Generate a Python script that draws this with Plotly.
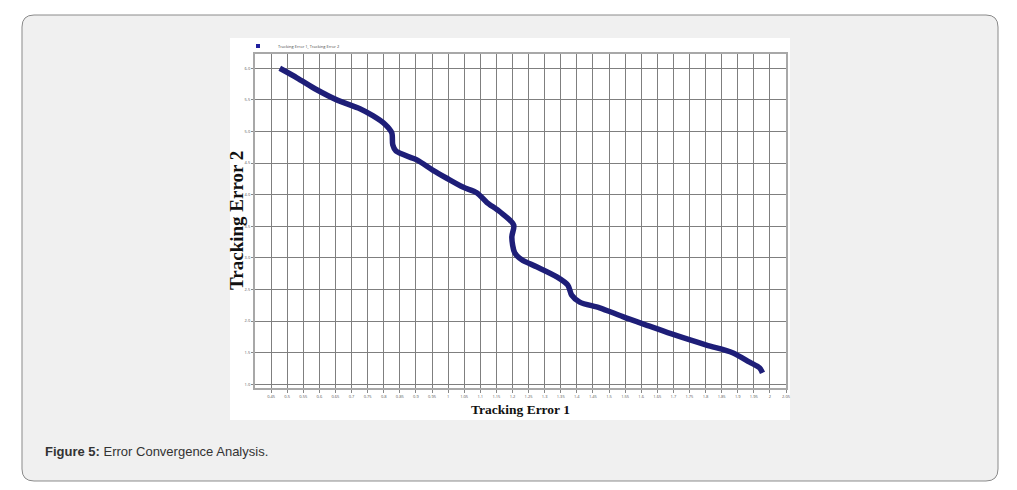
import plotly.graph_objects as go

# curve
tracking_error_1 = [0.477, 0.530, 0.592, 0.654, 0.726, 0.766, 0.803, 0.825, 0.828, 0.838,
                    0.903, 0.952, 0.996, 1.046, 1.089, 1.120, 1.161, 1.204, 1.198, 1.207,
                    1.229, 1.275, 1.338, 1.372, 1.384, 1.409, 1.471, 1.543, 1.626, 1.704,
                    1.803, 1.884, 1.937, 1.968, 1.977]
tracking_error_2 = [6.00, 5.85, 5.66, 5.50, 5.36, 5.25, 5.12, 4.98, 4.79, 4.69,
                    4.55, 4.39, 4.26, 4.12, 4.03, 3.88, 3.73, 3.52, 3.33, 3.08,
                    2.97, 2.86, 2.70, 2.57, 2.41, 2.30, 2.21, 2.07, 1.92, 1.78,
                    1.62, 1.50, 1.35, 1.26, 1.18]

x_ticks = [0.45, 0.5, 0.55, 0.6, 0.65, 0.7, 0.75, 0.8, 0.85, 0.9, 0.95, 1.0,
           1.05, 1.1, 1.15, 1.2, 1.25, 1.3, 1.35, 1.4, 1.45, 1.5, 1.55, 1.6,
           1.65, 1.7, 1.75, 1.8, 1.85, 1.9, 1.95, 2.0, 2.05]
x_labels = ["%g" % v for v in x_ticks]
y_ticks = [1.0, 1.5, 2.0, 2.5, 3.0, 3.5, 4.0, 4.5, 5.0, 5.5, 6.0]
y_labels = ["%.1f" % v for v in y_ticks]

OFF = 8   # page body margin, figure sits 8px in
W, H = 1001, 474
L, R, T, B = 255 - OFF, 786 - OFF, 54 - OFF, 388 - OFF   # plot area in figure pixels


def px(x):
    return (x - OFF - L) / (R - L)


def py(y):
    return (B - (y - OFF)) / (B - T)


def rounded_box(x0, y0, x1, y1, r):
    # rounded rectangle path in paper coords
    rx = r / (R - L)
    ry = r / (B - T)
    a, b, c, d = px(x0), px(x1), py(y1), py(y0)
    return ("M %f,%f L %f,%f Q %f,%f %f,%f L %f,%f Q %f,%f %f,%f "
            "L %f,%f Q %f,%f %f,%f L %f,%f Q %f,%f %f,%f Z" % (
                a + rx, c, b - rx, c, b, c, b, c + ry, b, d - ry, b, d, b - rx, d,
                a + rx, d, a, d, a, d - ry, a, c + ry, a, c, a + rx, c))


fig = go.Figure()
fig.add_trace(go.Scatter(
    x=tracking_error_1, y=tracking_error_2, mode="lines", showlegend=False,
    line=dict(color="#1e1e78", width=5.5, shape="spline", smoothing=0.8),
))
# legend entry with the square swatch of the original
fig.add_trace(go.Scatter(
    x=[None], y=[None], mode="markers", name="Tracking Error 1, Tracking Error 2",
    marker=dict(symbol="square", size=4, color="#1f1f9e"),
))

fig.update_layout(
    width=W, height=H,
    margin=dict(l=L, r=W - R, t=T, b=H - B),
    paper_bgcolor="white",
    plot_bgcolor="white",
    showlegend=True,
    legend=dict(x=px(238), y=py(46), xanchor="left", yanchor="middle", bgcolor="rgba(0,0,0,0)",
                font=dict(size=4, color="#444"), itemwidth=30, borderwidth=0),
    shapes=[
        dict(type="path", xref="paper", yref="paper", path=rounded_box(22, 15, 998, 481, 12),
             fillcolor="#f0f0f0", line=dict(color="#8a8a8a", width=1), layer="below"),
        dict(type="rect", xref="paper", yref="paper", x0=px(230), x1=px(790), y0=py(420), y1=py(38),
             fillcolor="white", line=dict(width=0), layer="below"),
    ],
    annotations=[
        dict(xref="paper", yref="paper", x=px(43), y=py(451), xanchor="left", yanchor="middle",
             showarrow=False, text="<b>Figure 5:</b> Error Convergence Analysis.",
             font=dict(family="Liberation Sans, Arial", size=13, color="#333")),
        # y title placed by hand, it sits closer to the axis than a standoff allows
        dict(xref="paper", yref="paper", x=px(236), y=py(221), xanchor="center", yanchor="middle",
             showarrow=False, textangle=-90, text="<b>Tracking Error 2</b>",
             font=dict(family="Liberation Serif, Times New Roman", size=19, color="#111")),
    ],
)

fig.update_xaxes(
    range=[0.40, 2.05], tickvals=x_ticks, ticktext=x_labels, tickangle=0,
    tickfont=dict(size=4, color="#555"), ticks="outside", ticklen=3, tickcolor="#888",
    showgrid=True, gridcolor="#7f7f7f", gridwidth=1.3,
    showline=True, linecolor="#a8a8a8", linewidth=2, mirror=True, zeroline=False,
    title=dict(text="<b>Tracking Error 1</b>", standoff=7,
               font=dict(family="Liberation Serif, Times New Roman", size=13.5, color="#111")),
)
fig.update_yaxes(
    range=[0.941, 6.226], tickvals=y_ticks, ticktext=y_labels,
    tickfont=dict(size=4, color="#555"), ticks="outside", ticklen=2, tickcolor="#888",
    showgrid=True, gridcolor="#7f7f7f", gridwidth=1.3,
    showline=True, linecolor="#a8a8a8", linewidth=2, mirror=True, zeroline=False,
)

fig.write_html("out.html")
